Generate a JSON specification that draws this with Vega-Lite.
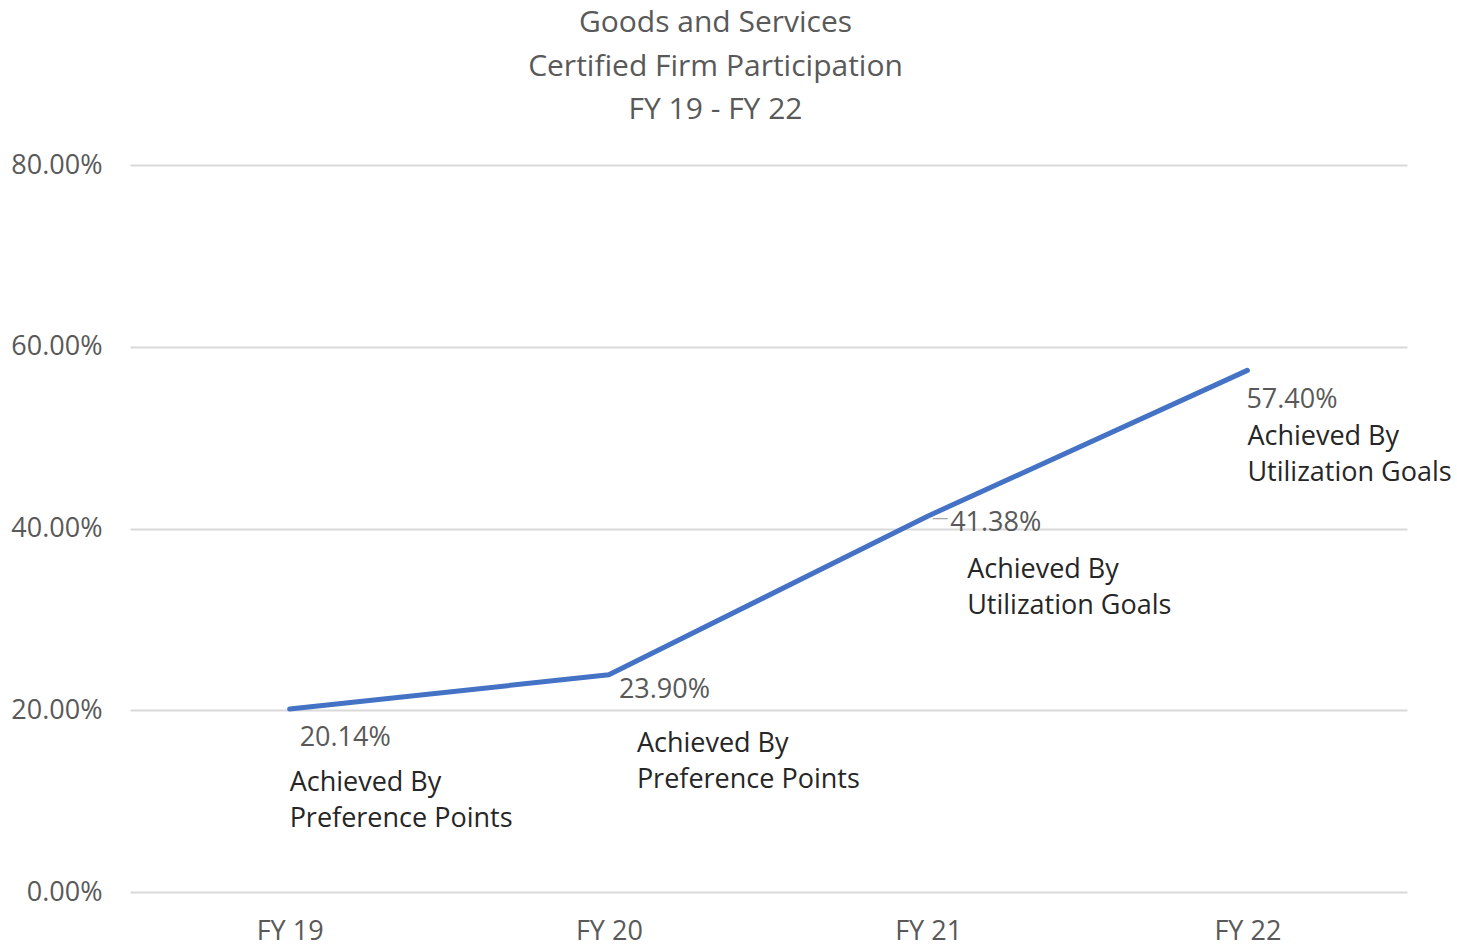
{
  "$schema": "https://vega.github.io/schema/vega-lite/v6.json",
  "width": 1277,
  "height": 727,
  "autosize": {"type": "none"},
  "padding": {"left": 130, "top": 165, "right": 50, "bottom": 55},
  "background": "white",
  "title": {
    "text": ["Goods and Services", "Certified Firm Participation", "FY 19 - FY 22"],
    "font": "Open Sans",
    "fontSize": 30,
    "fontWeight": "normal",
    "color": "#595959",
    "lineHeight": 43.5,
    "anchor": "middle",
    "dx": -53,
    "offset": 26
  },
  "data": {
    "values": [
      {"year": "FY 19", "value": 0.2014, "desc": "Achieved By\nPreference Points"},
      {"year": "FY 20", "value": 0.2390, "desc": "Achieved By\nPreference Points"},
      {"year": "FY 21", "value": 0.4138, "desc": "Achieved By\nUtilization Goals"},
      {"year": "FY 22", "value": 0.5740, "desc": "Achieved By\nUtilization Goals"}
    ]
  },
  "encoding": {
    "x": {
      "field": "year",
      "type": "ordinal",
      "scale": {"type": "point", "padding": 0.5},
      "axis": {
        "title": null,
        "labelAngle": 0,
        "domain": false,
        "ticks": false,
        "labelPadding": 26,
        "labelFont": "Open Sans",
        "labelFontSize": 27,
        "labelColor": "#595959",
        "grid": false
      }
    },
    "y": {
      "field": "value",
      "type": "quantitative",
      "scale": {"domain": [0, 0.8], "nice": false},
      "axis": {
        "title": null,
        "values": [0, 0.2, 0.4, 0.6, 0.8],
        "format": ".2%",
        "domain": false,
        "ticks": false,
        "grid": true,
        "gridColor": "#d9d9d9",
        "gridWidth": 2,
        "labelPadding": 28,
        "labelFont": "Open Sans",
        "labelFontSize": 27,
        "labelColor": "#595959"
      }
    }
  },
  "layer": [
    {
      "mark": {"type": "line", "color": "#4472C4", "strokeWidth": 5, "strokeCap": "round", "strokeJoin": "round"}
    },
    {
      "transform": [{"filter": "datum.year == 'FY 21'"}],
      "mark": {"type": "text", "text": "—", "font": "Open Sans", "fontSize": 16, "color": "#a6a6a6", "align": "center", "baseline": "middle", "dx": 12, "dy": 2}
    },
    {
      "transform": [{"filter": "datum.year == 'FY 19'"}],
      "mark": {"type": "text", "font": "Open Sans", "fontSize": 27, "color": "#595959", "align": "left", "baseline": "middle", "dx": 10, "dy": 29},
      "encoding": {"text": {"field": "value", "type": "quantitative", "format": ".2%"}}
    },
    {
      "transform": [{"filter": "datum.year == 'FY 20'"}],
      "mark": {"type": "text", "font": "Open Sans", "fontSize": 27, "color": "#595959", "align": "left", "baseline": "middle", "dx": 10, "dy": 15},
      "encoding": {"text": {"field": "value", "type": "quantitative", "format": ".2%"}}
    },
    {
      "transform": [{"filter": "datum.year == 'FY 21'"}],
      "mark": {"type": "text", "font": "Open Sans", "fontSize": 27, "color": "#595959", "align": "left", "baseline": "middle", "dx": 22, "dy": 7},
      "encoding": {"text": {"field": "value", "type": "quantitative", "format": ".2%"}}
    },
    {
      "transform": [{"filter": "datum.year == 'FY 22'"}],
      "mark": {"type": "text", "font": "Open Sans", "fontSize": 27, "color": "#595959", "align": "left", "baseline": "middle", "dx": -1, "dy": 30},
      "encoding": {"text": {"field": "value", "type": "quantitative", "format": ".2%"}}
    },
    {
      "transform": [{"filter": "datum.year == 'FY 19'"}],
      "mark": {"type": "text", "font": "Open Sans", "fontSize": 27, "color": "#262626", "align": "left", "baseline": "middle", "lineBreak": "\n", "lineHeight": 36, "dx": 0, "dy": 74},
      "encoding": {"text": {"field": "desc", "type": "nominal"}}
    },
    {
      "transform": [{"filter": "datum.year == 'FY 20'"}],
      "mark": {"type": "text", "font": "Open Sans", "fontSize": 27, "color": "#262626", "align": "left", "baseline": "middle", "lineBreak": "\n", "lineHeight": 36, "dx": 28, "dy": 69},
      "encoding": {"text": {"field": "desc", "type": "nominal"}}
    },
    {
      "transform": [{"filter": "datum.year == 'FY 21'"}],
      "mark": {"type": "text", "font": "Open Sans", "fontSize": 27, "color": "#262626", "align": "left", "baseline": "middle", "lineBreak": "\n", "lineHeight": 36, "dx": 39, "dy": 54},
      "encoding": {"text": {"field": "desc", "type": "nominal"}}
    },
    {
      "transform": [{"filter": "datum.year == 'FY 22'"}],
      "mark": {"type": "text", "font": "Open Sans", "fontSize": 27, "color": "#262626", "align": "left", "baseline": "middle", "lineBreak": "\n", "lineHeight": 36, "dx": 0, "dy": 67},
      "encoding": {"text": {"field": "desc", "type": "nominal"}}
    }
  ],
  "config": {
    "view": {"stroke": null}
  }
}
